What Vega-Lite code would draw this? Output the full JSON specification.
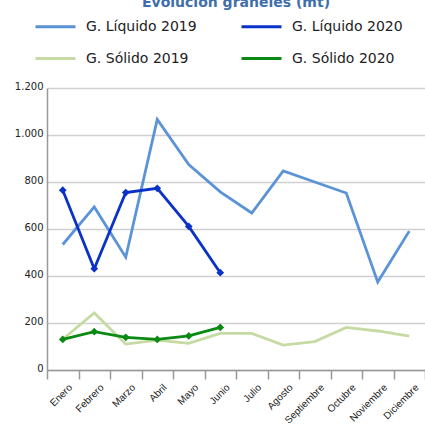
{
  "$schema": "https://vega.github.io/schema/vega-lite/v6.json",
  "width": 378,
  "height": 282,
  "autosize": "none",
  "padding": {"left": 47, "top": 88, "right": 0, "bottom": 55},
  "background": "white",
  "title": {"text": "Evolución graneles (mt)", "font": "DejaVu Sans", "fontSize": 14, "fontWeight": "bold", "color": "#3f6faa", "anchor": "middle", "frame": "group", "offset": 0, "dy": 5},
  "config": {
    "view": {"stroke": null},
    "font": "DejaVu Sans"
  },
  "data": {"values": [
    {"mes": "Enero", "serie": "G. Líquido 2019", "valor": 534},
    {"mes": "Febrero", "serie": "G. Líquido 2019", "valor": 694},
    {"mes": "Marzo", "serie": "G. Líquido 2019", "valor": 480},
    {"mes": "Abril", "serie": "G. Líquido 2019", "valor": 1066},
    {"mes": "Mayo", "serie": "G. Líquido 2019", "valor": 874},
    {"mes": "Junio", "serie": "G. Líquido 2019", "valor": 758},
    {"mes": "Julio", "serie": "G. Líquido 2019", "valor": 668},
    {"mes": "Agosto", "serie": "G. Líquido 2019", "valor": 847},
    {"mes": "Septiembre", "serie": "G. Líquido 2019", "valor": 800},
    {"mes": "Octubre", "serie": "G. Líquido 2019", "valor": 753},
    {"mes": "Noviembre", "serie": "G. Líquido 2019", "valor": 374},
    {"mes": "Diciembre", "serie": "G. Líquido 2019", "valor": 591},
    {"mes": "Enero", "serie": "G. Líquido 2020", "valor": 765},
    {"mes": "Febrero", "serie": "G. Líquido 2020", "valor": 431},
    {"mes": "Marzo", "serie": "G. Líquido 2020", "valor": 755},
    {"mes": "Abril", "serie": "G. Líquido 2020", "valor": 773},
    {"mes": "Mayo", "serie": "G. Líquido 2020", "valor": 611},
    {"mes": "Junio", "serie": "G. Líquido 2020", "valor": 414},
    {"mes": "Enero", "serie": "G. Sólido 2019", "valor": 131},
    {"mes": "Febrero", "serie": "G. Sólido 2019", "valor": 243},
    {"mes": "Marzo", "serie": "G. Sólido 2019", "valor": 110},
    {"mes": "Abril", "serie": "G. Sólido 2019", "valor": 127},
    {"mes": "Mayo", "serie": "G. Sólido 2019", "valor": 113},
    {"mes": "Junio", "serie": "G. Sólido 2019", "valor": 156},
    {"mes": "Julio", "serie": "G. Sólido 2019", "valor": 156},
    {"mes": "Agosto", "serie": "G. Sólido 2019", "valor": 106},
    {"mes": "Septiembre", "serie": "G. Sólido 2019", "valor": 121},
    {"mes": "Octubre", "serie": "G. Sólido 2019", "valor": 181},
    {"mes": "Noviembre", "serie": "G. Sólido 2019", "valor": 166},
    {"mes": "Diciembre", "serie": "G. Sólido 2019", "valor": 144},
    {"mes": "Enero", "serie": "G. Sólido 2020", "valor": 130},
    {"mes": "Febrero", "serie": "G. Sólido 2020", "valor": 163},
    {"mes": "Marzo", "serie": "G. Sólido 2020", "valor": 139},
    {"mes": "Abril", "serie": "G. Sólido 2020", "valor": 130},
    {"mes": "Mayo", "serie": "G. Sólido 2020", "valor": 145},
    {"mes": "Junio", "serie": "G. Sólido 2020", "valor": 181}
  ]},
  "encoding": {
    "x": {
      "field": "mes", "type": "nominal", "bandPosition": 0.5,
      "sort": ["Enero","Febrero","Marzo","Abril","Mayo","Junio","Julio","Agosto","Septiembre","Octubre","Noviembre","Diciembre"],
      "scale": {"type": "band", "paddingInner": 0, "paddingOuter": 0},
      "axis": {"title": null, "labelAngle": -45, "labelAlign": "right", "labelBaseline": "top", "labelFont": "Liberation Sans", "labelFontSize": 10, "labelColor": "#222222", "tickBand": "extent", "tickSize": 9, "tickColor": "#999999", "tickWidth": 1.5, "domainColor": "#999999", "domainWidth": 1.5, "grid": false, "labelPadding": 3, "labelOffset": 4}
    },
    "y": {
      "field": "valor", "type": "quantitative",
      "scale": {"domain": [0, 1200]},
      "axis": {"title": null, "values": [0,200,400,600,800,1000,1200], "labelExpr": "replace(format(datum.value, ','), ',', '.')", "labelFontSize": 10, "labelColor": "#222222", "ticks": false, "labelPadding": 4, "domainColor": "#999999", "domainWidth": 1.5, "gridColor": "#d0d0d0", "gridWidth": 1.5, "labelBaseline": "middle", "labelOffset": -2}
    },
    "color": {
      "field": "serie", "type": "nominal",
      "scale": {"domain": ["G. Líquido 2019","G. Líquido 2020","G. Sólido 2019","G. Sólido 2020"], "range": ["#5b93d7","#0a32c8","#c5dba3","#0b8a13"]},
      "legend": {"title": null, "orient": "none", "direction": "horizontal", "legendX": -13, "legendY": -83, "columns": 2, "symbolType": "stroke", "symbolSize": 1600, "symbolStrokeWidth": 3, "labelFontSize": 14, "labelColor": "#222222", "columnPadding": 38, "rowPadding": 3, "labelOffset": 9}
    }
  },
  "layer": [
    {"mark": {"type": "line", "strokeWidth": 2.8}},
    {"transform": [{"filter": "indexof(datum.serie, '2020') >= 0"}],
     "mark": {"type": "point", "shape": "diamond", "filled": true, "size": 60, "opacity": 1}}
  ]
}
